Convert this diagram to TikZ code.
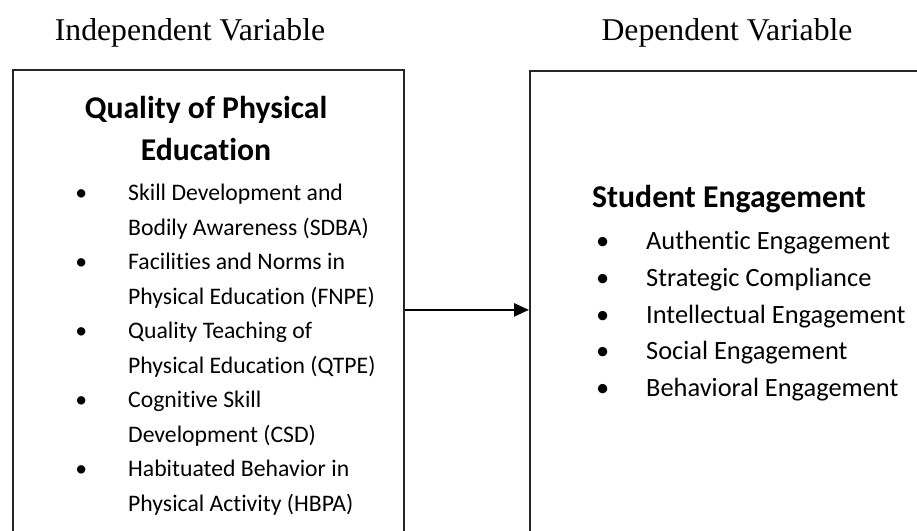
\documentclass[tikz,border=0pt]{standalone}
\usepackage{fontspec}
\setmainfont{Carlito}[Ligatures=CommonOff]
\newfontfamily\timesfont{Liberation Serif}
\usetikzlibrary{positioning, arrows.meta}
\newcommand{\ecart}{37pt}
\newcommand{\puce}{\llap{\textbullet\hspace{\ecart}}}

\begin{document}
\begin{tikzpicture}[x=1pt, y=1pt]
        % Styles
        \tikzstyle{cadre} = [rectangle, draw=black!85, line width=1.8pt, anchor=north west, inner sep=0pt]
        \tikzstyle{entete} = [font=\timesfont\fontsize{31.7}{38}\selectfont, text=black]
        \tikzstyle{titre} = [font=\bfseries\fontsize{31.7}{42}\selectfont, align=center, inner sep=0pt, text=black]
        \tikzstyle{liste} = [align=left, inner sep=0pt, anchor=north west, text=black]
        \tikzstyle{arrow} = [line width=2.4pt, -{Triangle[length=15pt, width=13pt]}]

        \path[use as bounding box, clip] (0,0) rectangle (917,-530);

        % Cadres
        \node (independante) [cadre, minimum width=391pt, minimum height=480pt] at (12,-69) {};
        \node (dependante) [cadre, minimum width=420pt, minimum height=478pt] at (529,-70) {};

        % En-tetes
        \node (entetei) [entete] at (190,-33) {Independent Variable};
        \node (entetej) [entete] at (727,-33) {Dependent Variable};

        % Variable independante
        \node (qpe) [titre] at (206,-128) {Quality of Physical\\Education};
        \node (criteresq) [liste, font=\fontsize{23.7}{34.5}\selectfont\def\ecart{41pt}] at (128,-184) {\puce Skill Development and\\Bodily Awareness (SDBA)\\\puce Facilities and Norms in\\Physical Education (FNPE)\\\puce Quality Teaching of\\Physical Education (QTPE)\\\puce Cognitive Skill\\Development (CSD)\\\puce Habituated Behavior in\\Physical Activity (HBPA)};

        % Variable dependante
        \node (se) [titre, anchor=base west] at (592,-207) {Student Engagement};
        \node (criteress) [liste, font=\fontsize{26.4}{36.8}\selectfont] at (646,-231) {\puce Authentic Engagement\\\puce Strategic Compliance\\\puce Intellectual Engagement\\\puce Social Engagement\\\puce Behavioral Engagement};

        % Fleche
        \draw [arrow] (independante) -- (dependante);
    \end{tikzpicture}
\end{document}
